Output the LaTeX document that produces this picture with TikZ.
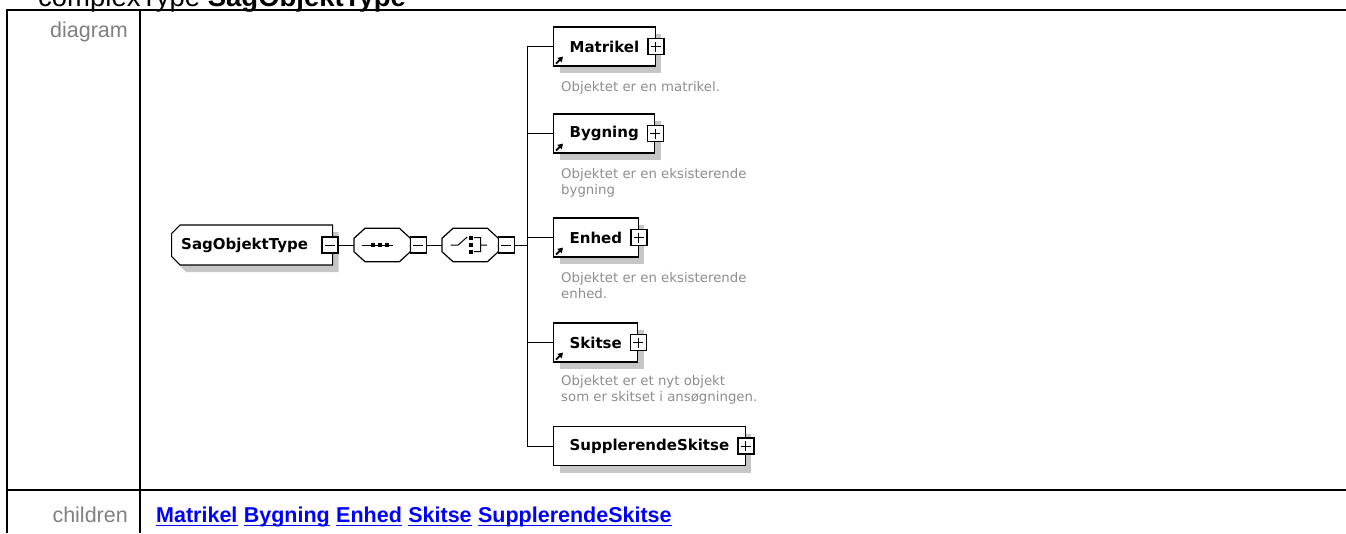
\documentclass[tikz,border=0pt]{standalone}
\usepackage{fontspec}
\setmainfont{Liberation Sans}
\newfontfamily\diagfont{DejaVu Sans}
\usetikzlibrary{positioning, arrows.meta, shapes.misc, shadows}
\definecolor{labelgray}{HTML}{808080}
\definecolor{notegray}{HTML}{8E8E8E}
\definecolor{shadowgray}{HTML}{C6C6C6}
\definecolor{linkblue}{HTML}{0000FF}

\tikzset{
  boxshadow/.style={general shadow={fill=shadowgray, shadow xshift=6pt, shadow yshift=-7pt}},
  typebox/.style={chamfered rectangle, chamfered rectangle corners={north west, south west},
    chamfered rectangle xsep=5pt, draw, line width=1.2pt, fill=white, boxshadow,
    minimum width=161pt, minimum height=40pt, inner sep=0pt, anchor=west,
    font=\diagfont\bfseries\fontsize{15}{18}\selectfont},
  compbox/.style={minimum width=56pt, minimum height=33pt, inner sep=0pt, anchor=west},
  compline/.style={fill=white, draw, line width=1.2pt},
  elembox/.style={draw, line width=1.2pt, fill=white, boxshadow, minimum height=39pt,
    inner xsep=16pt, inner ysep=0pt, anchor=west,
    font=\diagfont\bfseries\fontsize{15}{18}\selectfont},
  minusbox/.style={draw, line width=1.6pt, fill=white, minimum size=16pt, inner sep=0pt,
    path picture={\draw[line width=1pt] ([xshift=3pt]path picture bounding box.west)
      -- ([xshift=-3pt]path picture bounding box.east);}},
  plusbox/.style={draw, line width=1.6pt, fill=white, minimum size=16pt, inner sep=0pt,
    path picture={\draw[line width=1pt] ([xshift=3pt]path picture bounding box.west)
      -- ([xshift=-3pt]path picture bounding box.east)
      ([yshift=-3pt]path picture bounding box.north)
      -- ([yshift=3pt]path picture bounding box.south);}},
  note/.style={inner sep=0pt, align=left, text=notegray,
    font=\diagfont\fontsize{13.3}{16}\selectfont},
  rowlabel/.style={anchor=base east, inner sep=0pt, text=labelgray,
    font=\fontsize{21.5}{24}\selectfont},
  reflink/.style={inner sep=0pt, text=linkblue,
    font=\bfseries\fontsize{21.5}{24}\selectfont},
  linkline/.style={draw=linkblue, line width=1.6pt},
  refarrow/.style={-{Triangle[length=5pt, width=6pt]}, line width=1.7pt},
}

\begin{document}
\begin{tikzpicture}[x=1pt, y=-1pt]
  \fill[white] (0,0) rectangle (1346,533);
  \useasboundingbox (0,0) rectangle (1346,533);

  % heading and table
  \node[anchor=base west, inner sep=0pt, font=\fontsize{27.5}{32}\selectfont] (title) at (38,6)
    {complexType \textbf{SagObjektType}};
  \draw[line width=2pt] (7,533) -- (7,10) -- (1346,10);
  \draw[line width=2pt] (140,10) -- (140,533);
  \draw[line width=2pt] (7,490) -- (1346,490);
  \node[rowlabel] (diagramlbl) at (128,37) {diagram};
  \node[rowlabel] (childrenlbl) at (128,522) {children};

  % children links
  \node[reflink, anchor=base west] (lnk1) at (156,522) {Matrikel};
  \node[reflink, right=6pt of lnk1.base east, anchor=base west] (lnk2) {Bygning};
  \node[reflink, right=6pt of lnk2.base east, anchor=base west] (lnk3) {Enhed};
  \node[reflink, right=6pt of lnk3.base east, anchor=base west] (lnk4) {Skitse};
  \node[reflink, right=6pt of lnk4.base east, anchor=base west] (lnk5) {SupplerendeSkitse};
  \foreach \n in {lnk1, lnk2, lnk3, lnk4, lnk5}
    \draw[linkline] ([yshift=-3.5pt]\n.base west) -- ([yshift=-3.5pt]\n.base east);

  % type, sequence, choice
  \node[typebox] (root) at (171,245) {SagObjektType\hspace*{15pt}};
  \node[compbox] (seq) at (354,245) {};
  \node[compbox] (choice) at (442,245) {};
  \foreach \n in {seq, choice} {
    \fill[shadowgray, shift={(6,6)}] ([xshift=11pt]\n.north west) -- ([xshift=-11pt]\n.north east)
      -- ([yshift=-10pt]\n.north east) -- ([yshift=10pt]\n.south east)
      -- ([xshift=-11pt]\n.south east) -- ([xshift=11pt]\n.south west)
      -- ([yshift=10pt]\n.south west) -- ([yshift=-10pt]\n.north west) -- cycle;
    \path[compline] ([xshift=11pt]\n.north west) -- ([xshift=-11pt]\n.north east)
      -- ([yshift=-10pt]\n.north east) -- ([yshift=10pt]\n.south east)
      -- ([xshift=-11pt]\n.south east) -- ([xshift=11pt]\n.south west)
      -- ([yshift=10pt]\n.south west) -- ([yshift=-10pt]\n.north west) -- cycle;
  }
  \node[minusbox] (root-exp) at ([xshift=-3pt]root.east) {};
  \node[minusbox] (seq-exp) at ([xshift=8pt]seq.east) {};
  \node[minusbox] (choice-exp) at ([xshift=8pt]choice.east) {};
  \coordinate (bus) at (527,245);

  % sequence icon
  \draw[line width=1pt] ([xshift=-20pt]seq.center) -- ([xshift=11pt]seq.center);
  \foreach \dx in {-9,-2,5}
    \fill ([xshift=\dx pt]seq.center) +(-2,-2) rectangle +(2,2);
  % choice icon
  \draw[line width=1pt] (choice.center) +(-19.5,0) -- +(-12,0) -- +(-3,-8)
    +(4,-7.5) -- +(10.5,-7.5) -- +(10.5,6.5) -- +(4,6.5)
    +(10.5,0) -- +(17,0);
  \foreach \dy in {-7.5,0,6.5}
    \fill (choice.center) +(-1.5,\dy-2) rectangle +(2.5,\dy+2);

  \draw (root-exp.east) -- (seq.west);
  \draw (seq-exp.east) -- (choice.west);
  \draw (choice-exp.east) -- (bus);

  % child elements
  \node[elembox] (matrikel) at (553,46.5) {Matrikel};
  \node[elembox] (bygning) at (553,133.5) {Bygning};
  \node[elembox] (enhed) at (553,237.5) {Enhed};
  \node[elembox] (skitse) at (553,342.5) {Skitse};
  \node[elembox] (supp) at (553,446) {SupplerendeSkitse};

  \draw (bus |- matrikel.west) -- (bus |- supp.west);
  \foreach \n in {matrikel, bygning, enhed, skitse, supp} {
    \draw (bus |- \n.west) -- (\n.west);
    \node[plusbox] (\n-exp) at (\n.east) {};
  }
  \foreach \n in {matrikel, bygning, enhed, skitse}
    \draw[refarrow] ([xshift=3pt, yshift=3pt]\n.south west) -- ++(7,-7);

  \node[note, below right=15pt and 8pt of matrikel.south west] (matrikel-note)
    {Objektet er en matrikel.};
  \node[note, below right=15pt and 8pt of bygning.south west] (bygning-note)
    {Objektet er en eksisterende\\bygning};
  \node[note, below right=15pt and 8pt of enhed.south west] (enhed-note)
    {Objektet er en eksisterende\\enhed.};
  \node[note, below right=13pt and 8pt of skitse.south west] (skitse-note)
    {Objektet er et nyt objekt\\som er skitset i ansøgningen.};
\end{tikzpicture}
\end{document}
